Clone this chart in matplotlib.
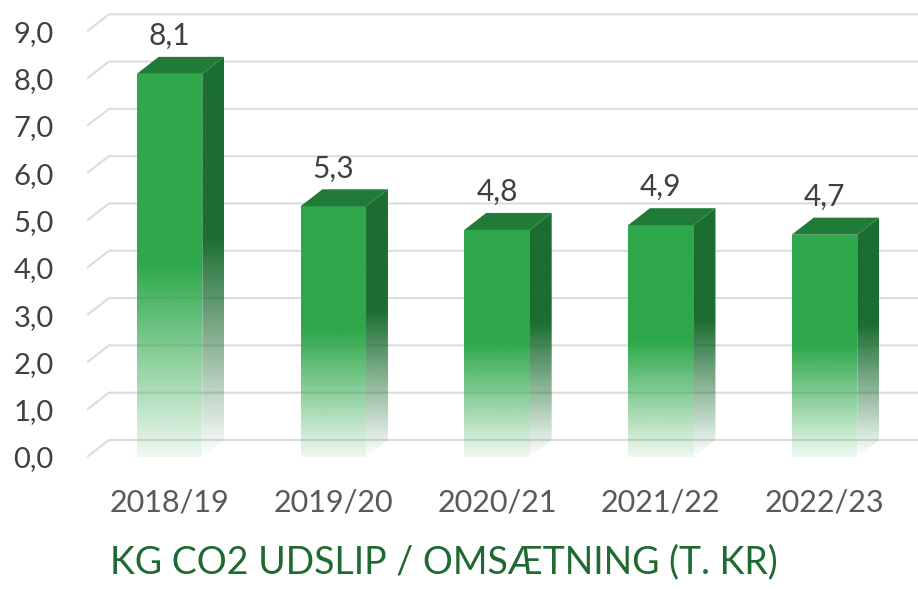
#!/usr/bin/env python3

"""
Excel-style 3D column chart: kg CO2 emission per turnover (thousand kr).
Bars fade out towards the floor, gridlines sit on the back wall.
"""

import numpy as np
import matplotlib
matplotlib.use("Agg")
import matplotlib.pyplot as plt
from matplotlib.patches import Polygon
from matplotlib.colors import to_rgb

plt.rcParams["font.family"] = ["Lato", "DejaVu Sans"]

# Data
seasons = ["2018/19", "2019/20", "2020/21", "2021/22", "2022/23"]
co2_per_turnover = [8.1, 5.3, 4.8, 4.9, 4.7]
y_ticks = [0, 1, 2, 3, 4, 5, 6, 7, 8, 9]
title = "KG CO2 UDSLIP / OMSÆTNING (T. KR)"

# Styling / 3D geometry (data units)
BAR_W = 0.40      # front face width
DX = 0.134        # depth offset, x
DY = 0.36         # depth offset, y
FRONT = "#2ea84b"
SIDE = "#1b6d31"
TOP = "#217b38"
GRID = "#dcdcdc"


def fade_face(ax, verts, color, solid_from=0.5, min_alpha=0.08):
    """Fill a polygon with a colour whose alpha fades out towards the floor."""
    poly = Polygon(verts, closed=True, facecolor="none", edgecolor="none")
    ax.add_patch(poly)
    n = 200
    frac = np.linspace(1, 0, n)  # top -> bottom
    alpha = np.clip(min_alpha + (1 - min_alpha) * frac / solid_from, 0, 1)
    img = np.zeros((n, 1, 4))
    img[..., :3] = to_rgb(color)
    img[:, 0, 3] = alpha
    xs = [v[0] for v in verts]
    ys = [v[1] for v in verts]
    im = ax.imshow(img, extent=(min(xs), max(xs), min(ys), max(ys)),
                   aspect="auto", interpolation="bilinear", zorder=3,
                   origin="upper")
    im.set_clip_path(poly)


def main():
    fig = plt.figure(figsize=(9.18, 5.89), dpi=100)
    W, H = 918, 589
    ax = fig.add_axes([87 / W, (H - 470) / H, (918 - 87) / W, 465 / H])
    x_left, x_right = -0.504, 4.571
    ax.set_xlim(x_left, x_right)
    ax.set_ylim(-0.275, 9.556)

    # back wall gridlines + floor diagonals
    for v in y_ticks:
        ax.plot([x_left, x_left + DX, x_right], [v, v + DY, v + DY],
                color=GRID, lw=1.5, zorder=1, solid_capstyle="butt")

    for i, val in enumerate(co2_per_turnover):
        l, r = i - BAR_W / 2, i + BAR_W / 2
        # front face
        fade_face(ax, [(l, 0), (r, 0), (r, val), (l, val)], FRONT)
        # side face
        fade_face(ax, [(r, 0), (r + DX, DY), (r + DX, val + DY), (r, val)],
                  SIDE, solid_from=0.55, min_alpha=0.0)
        # top face
        ax.add_patch(Polygon([(l, val), (l + DX, val + DY),
                              (r + DX, val + DY), (r, val)],
                             closed=True, facecolor=TOP, edgecolor="none",
                             zorder=4))
        ax.annotate(f"{val:.1f}".replace(".", ","), (i, val + DY),
                    xytext=(0, 5), textcoords="offset points",
                    ha="center", va="bottom", fontsize=21.5, color="#404040")

    ax.set_yticks(y_ticks, [f"{v:.1f}".replace(".", ",") for v in y_ticks],
                  fontsize=21, color="#404040")
    ax.set_xticks(range(len(seasons)), seasons, fontsize=22, color="#595959")
    ax.tick_params(axis="y", length=0, pad=24)
    ax.tick_params(axis="x", length=0, pad=13)
    for s in ax.spines.values():
        s.set_visible(False)

    fig.text(444 / W, 1 - 573 / H, title, ha="center", va="baseline",
             fontsize=27, color="#1e6a30")

    fig.savefig("out.png", dpi=100)
    plt.close(fig)


if __name__ == "__main__":
    main()
